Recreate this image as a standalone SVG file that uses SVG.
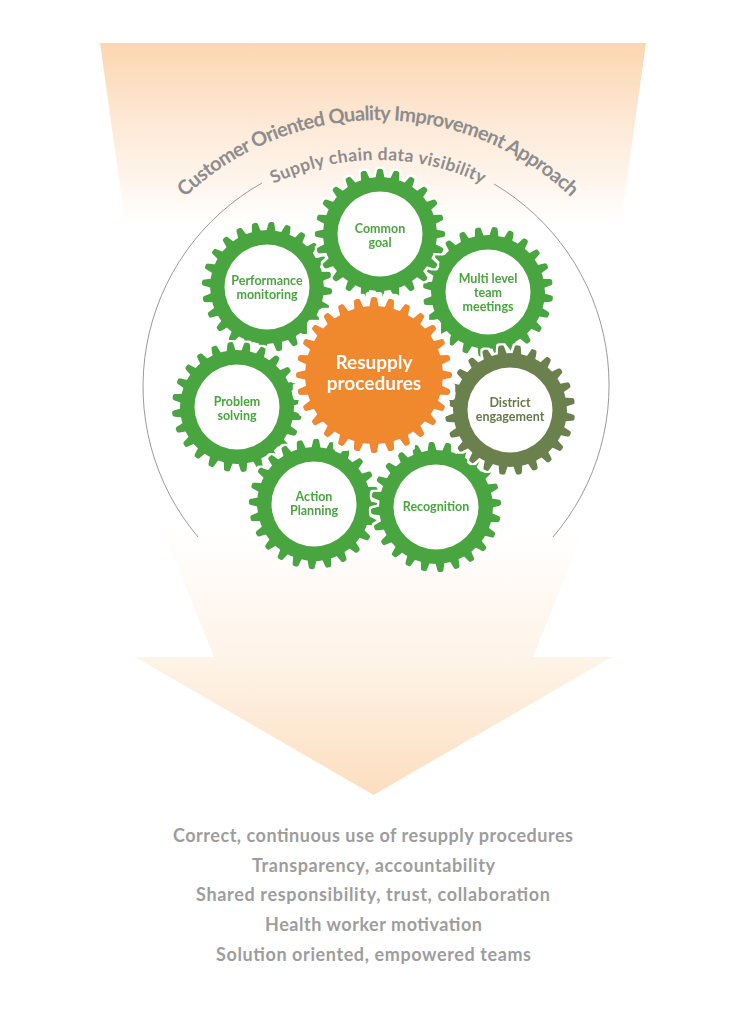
<svg xmlns="http://www.w3.org/2000/svg" xmlns:xlink="http://www.w3.org/1999/xlink" width="746" height="1024" viewBox="0 0 746 1024">
<style>
.bg{fill:#fff}
.green{fill:#4aa53f}
.olive{fill:#6b814e}
.orange{fill:#f0892d}
.hole{fill:#fff}
.gt{font-family:Lato,"Liberation Sans",sans-serif;font-weight:700;font-size:12.5px;fill:#4aa53f;text-anchor:middle}
.gt.dk{fill:#667a4a}
.ct{font-family:Lato,"Liberation Sans",sans-serif;font-weight:700;font-size:19px;fill:#fff;text-anchor:middle}
.arct{font-family:Lato,"Liberation Sans",sans-serif;font-weight:700;fill:#8d8d8d}
.out{font-family:Lato,"Liberation Sans",sans-serif;font-weight:700;font-size:18px;fill:#9d9d9d;text-anchor:middle}
.ring{fill:none;stroke:#9a9a9a;stroke-width:1}
</style>
<defs>
<linearGradient id="topGrad" x1="0" y1="43" x2="0" y2="222" gradientUnits="userSpaceOnUse">
<stop offset="0" stop-color="#fcd6b0"/>
<stop offset="0.45" stop-color="#fde9d6"/>
<stop offset="0.85" stop-color="#fff8f2"/>
<stop offset="1" stop-color="#ffffff"/>
</linearGradient>
<linearGradient id="arrowGrad" x1="0" y1="530" x2="0" y2="795" gradientUnits="userSpaceOnUse">
<stop offset="0" stop-color="#ffffff"/>
<stop offset="0.5" stop-color="#fef3e7"/>
<stop offset="1" stop-color="#fcdebf"/>
</linearGradient>
<filter id="halo" x="-20%" y="-20%" width="140%" height="140%">
<feMorphology in="SourceAlpha" operator="dilate" radius="2" result="d"/>
<feFlood flood-color="#ffffff"/>
<feComposite in2="d" operator="in" result="w"/>
<feMerge><feMergeNode in="w"/><feMergeNode in="SourceGraphic"/></feMerge>
</filter>
<filter id="haloBig" x="-20%" y="-20%" width="140%" height="140%">
<feMorphology in="SourceAlpha" operator="dilate" radius="4.5" result="d"/>
<feFlood flood-color="#ffffff"/>
<feComposite in2="d" operator="in" result="w"/>
<feMerge><feMergeNode in="w"/><feMergeNode in="SourceGraphic"/></feMerge>
</filter>
<path id="tooth" d="M-4.8,-55 L-3.1,-63.5 Q-2.7,-65.2 -1,-65.2 L1,-65.2 Q2.7,-65.2 3.1,-63.5 L4.8,-55 Z"/>
<path id="toothL" d="M-5,-67 L-3.1,-76.4 Q-2.7,-78 -1,-78 L1,-78 Q2.7,-78 3.1,-76.4 L5,-67 Z"/>
<g id="gear24">
<circle r="57"/>
<use href="#tooth"/>
<use href="#tooth" transform="rotate(15)"/>
<use href="#tooth" transform="rotate(30)"/>
<use href="#tooth" transform="rotate(45)"/>
<use href="#tooth" transform="rotate(60)"/>
<use href="#tooth" transform="rotate(75)"/>
<use href="#tooth" transform="rotate(90)"/>
<use href="#tooth" transform="rotate(105)"/>
<use href="#tooth" transform="rotate(120)"/>
<use href="#tooth" transform="rotate(135)"/>
<use href="#tooth" transform="rotate(150)"/>
<use href="#tooth" transform="rotate(165)"/>
<use href="#tooth" transform="rotate(180)"/>
<use href="#tooth" transform="rotate(195)"/>
<use href="#tooth" transform="rotate(210)"/>
<use href="#tooth" transform="rotate(225)"/>
<use href="#tooth" transform="rotate(240)"/>
<use href="#tooth" transform="rotate(255)"/>
<use href="#tooth" transform="rotate(270)"/>
<use href="#tooth" transform="rotate(285)"/>
<use href="#tooth" transform="rotate(300)"/>
<use href="#tooth" transform="rotate(315)"/>
<use href="#tooth" transform="rotate(330)"/>
<use href="#tooth" transform="rotate(345)"/>
</g>
<g id="gear28">
<circle r="69"/>
<use href="#toothL"/>
<use href="#toothL" transform="rotate(12.857)"/>
<use href="#toothL" transform="rotate(25.714)"/>
<use href="#toothL" transform="rotate(38.571)"/>
<use href="#toothL" transform="rotate(51.429)"/>
<use href="#toothL" transform="rotate(64.286)"/>
<use href="#toothL" transform="rotate(77.143)"/>
<use href="#toothL" transform="rotate(90)"/>
<use href="#toothL" transform="rotate(102.857)"/>
<use href="#toothL" transform="rotate(115.714)"/>
<use href="#toothL" transform="rotate(128.571)"/>
<use href="#toothL" transform="rotate(141.429)"/>
<use href="#toothL" transform="rotate(154.286)"/>
<use href="#toothL" transform="rotate(167.143)"/>
<use href="#toothL" transform="rotate(180)"/>
<use href="#toothL" transform="rotate(192.857)"/>
<use href="#toothL" transform="rotate(205.714)"/>
<use href="#toothL" transform="rotate(218.571)"/>
<use href="#toothL" transform="rotate(231.429)"/>
<use href="#toothL" transform="rotate(244.286)"/>
<use href="#toothL" transform="rotate(257.143)"/>
<use href="#toothL" transform="rotate(270)"/>
<use href="#toothL" transform="rotate(282.857)"/>
<use href="#toothL" transform="rotate(295.714)"/>
<use href="#toothL" transform="rotate(308.571)"/>
<use href="#toothL" transform="rotate(321.429)"/>
<use href="#toothL" transform="rotate(334.286)"/>
<use href="#toothL" transform="rotate(347.143)"/>
</g>
<path id="outerArc" d="M98,400 A280,280 0 0 1 658,400"/>
<path id="innerArc" d="M138,400 A240,240 0 0 1 618,400"/>
</defs>

<rect class="bg" x="0" y="0" width="746" height="1024"/>

<g id="background">
<polygon points="100,43 646,43 621,222 125,222" fill="url(#topGrad)"/>
<polygon points="163,530 584,530 533,657 612,657 373.5,795 135,657 214,657" fill="url(#arrowGrad)"/>
</g>

<g id="connectors">
<path class="ring" d="M262,183 A233.5,233.5 0 0 0 198,537"/>
<path class="ring" d="M494,184 A233.5,233.5 0 0 1 553,537"/>
</g>

<g id="labels-arc">
<text class="arct" font-size="20"><textPath href="#outerArc" startOffset="50%" text-anchor="middle" textLength="426" lengthAdjust="spacing">Customer Oriented Quality Improvement Approach</textPath></text>
<text class="arct" font-size="17.5"><textPath href="#innerArc" startOffset="50%" text-anchor="middle" textLength="216" lengthAdjust="spacing">Supply chain data visibility</textPath></text>
</g>

<g id="node-performance" filter="url(#halo)" transform="translate(267,287)">
<use href="#gear24" class="green" transform="rotate(4)"/>
<circle class="hole" r="42.5"/>
<text class="gt" y="-2">Performance</text>
<text class="gt" y="12">monitoring</text>
</g>

<g id="node-problem" filter="url(#halo)" transform="translate(237,407)">
<use href="#gear24" class="green" transform="rotate(9)"/>
<circle class="hole" r="42.5"/>
<text class="gt" y="-1">Problem</text>
<text class="gt" y="13">solving</text>
</g>

<g id="node-action" filter="url(#halo)" transform="translate(314,504)">
<use href="#gear24" class="green" transform="rotate(2)"/>
<circle class="hole" r="42.5"/>
<text class="gt" y="-3">Action</text>
<text class="gt" y="11">Planning</text>
</g>

<g id="node-recognition" filter="url(#halo)" transform="translate(436,507)">
<use href="#gear24" class="green" transform="rotate(11)"/>
<circle class="hole" r="42.5"/>
<text class="gt" y="4">Recognition</text>
</g>

<g id="node-multilevel" filter="url(#halo)" transform="translate(488,292)">
<use href="#gear24" class="green" transform="rotate(6)"/>
<circle class="hole" r="42.5"/>
<text class="gt" y="-9">Multi level</text>
<text class="gt" y="5">team</text>
<text class="gt" y="19">meetings</text>
</g>

<g id="node-common" filter="url(#halo)" transform="translate(380,234)">
<use href="#gear24" class="green" transform="rotate(0)"/>
<circle class="hole" r="42.5"/>
<text class="gt" y="-1">Common</text>
<text class="gt" y="13">goal</text>
</g>

<g id="node-district" filter="url(#halo)" transform="translate(510,410)">
<use href="#gear24" class="olive" transform="rotate(7)"/>
<circle class="hole" r="42.5"/>
<text class="gt dk" y="-3">District</text>
<text class="gt dk" y="11">engagement</text>
</g>

<g id="node-resupply" filter="url(#haloBig)" transform="translate(374,375)">
<use href="#gear28" class="orange"/>
<text class="ct" y="-6">Resupply</text>
<text class="ct" y="15">procedures</text>
</g>

<g id="outcomes">
<text class="out" x="373" y="842" textLength="400" lengthAdjust="spacing">Correct, continuous use of resupply procedures</text>
<text class="out" x="373.5" y="872" textLength="243" lengthAdjust="spacing">Transparency, accountability</text>
<text class="out" x="373" y="901" textLength="354" lengthAdjust="spacing">Shared responsibility, trust, collaboration</text>
<text class="out" x="373.5" y="931" textLength="217" lengthAdjust="spacing">Health worker motivation</text>
<text class="out" x="373.5" y="961" textLength="315" lengthAdjust="spacing">Solution oriented, empowered teams</text>
</g>
</svg>
